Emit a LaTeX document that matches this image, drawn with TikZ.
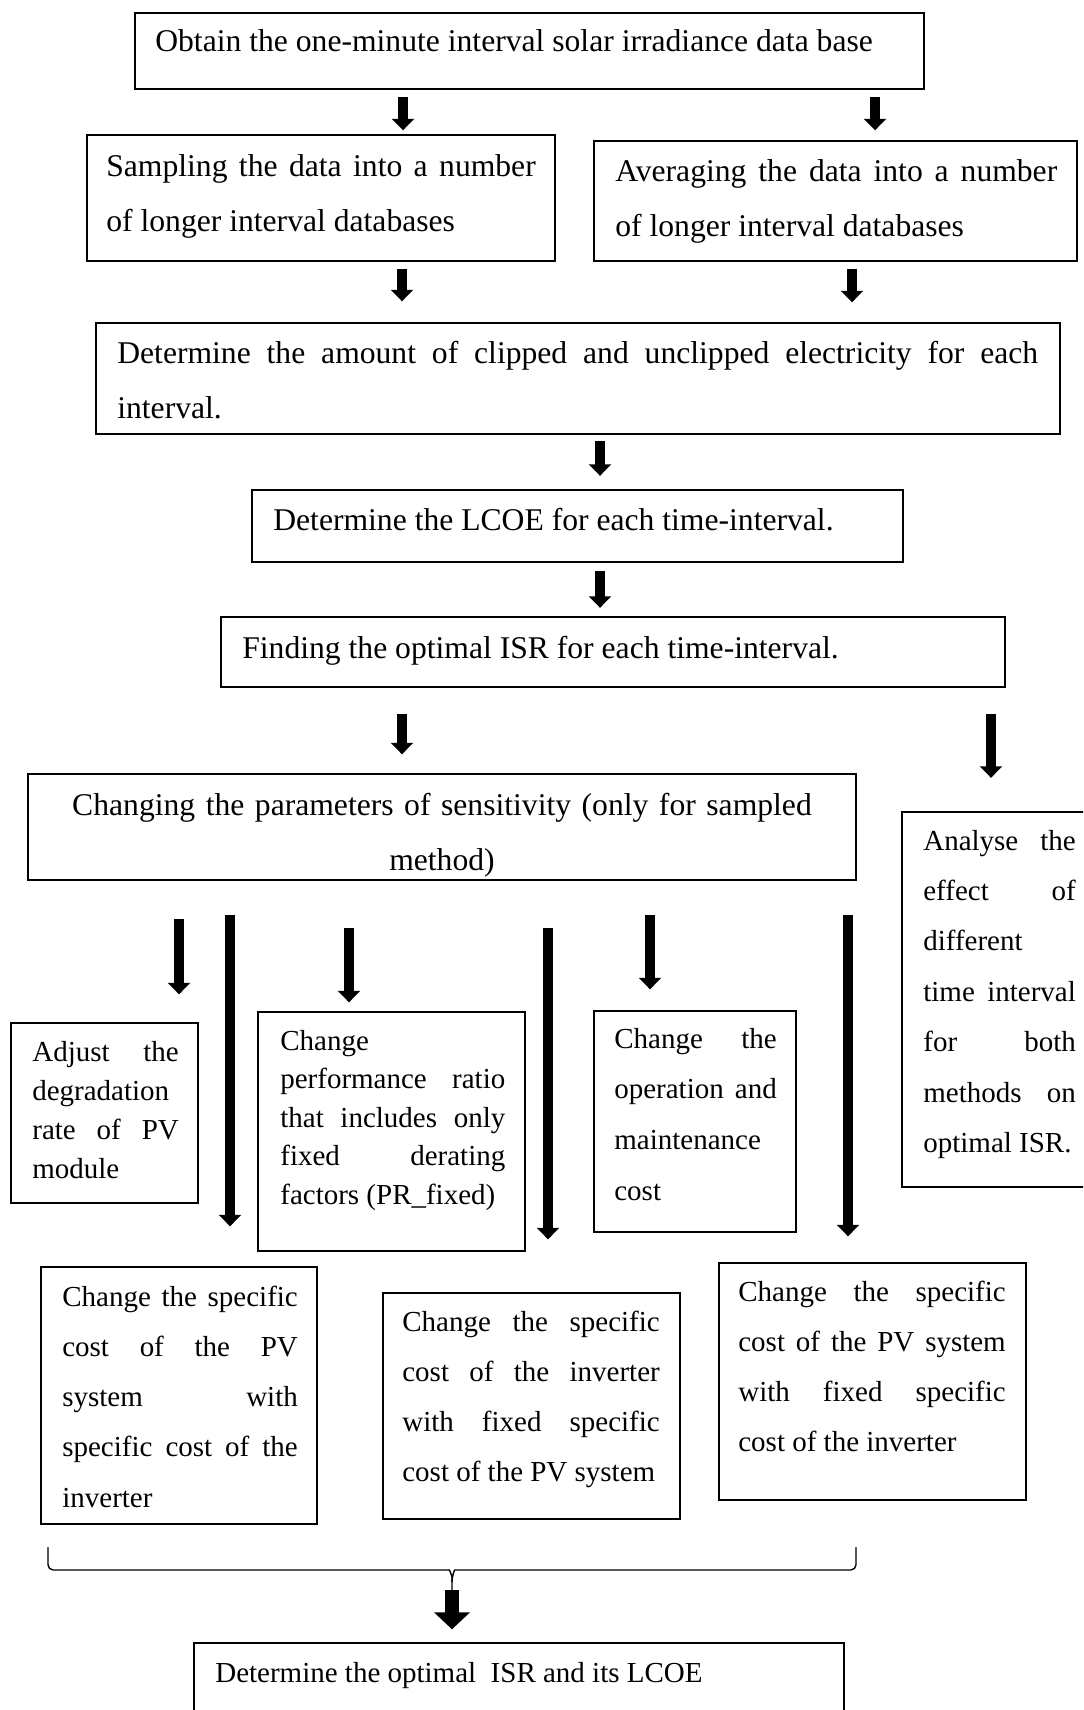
\documentclass[tikz,border=0pt]{standalone}
\usepackage{fontspec}
\setmainfont{Liberation Serif}
\usetikzlibrary{arrows.meta,fit}
\tolerance=10000
\hbadness=10000
\hyphenpenalty=10000
\begin{document}
\begin{tikzpicture}[x=0.02cm, y=-0.02cm,
                  box/.style={draw, line width=0.8pt, inner sep=0pt},
                  txt/.style={anchor=base west, inner sep=0pt},
                  jus/.style={txt, align=justify, text width=#1},
                  big/.style={font=\fontsize{18}{31.6}\selectfont},
                  small/.style={font=\fontsize{16.5}{#1}\selectfont},
                  arr/.style={line width=0.19cm, -{Triangle[width=0.44cm,length=0.23cm]}},
                  bigarr/.style={line width=0.28cm, -{Triangle[width=0.7cm,length=0.34cm]}},
                  brc/.style={line width=0.8pt, rounded corners=3pt}]
\path[use as bounding box, fill=white] (0,0) rectangle (1083,1710);
\clip (0,0) rectangle (1083,1710);
\foreach \n/\a/\b/\c/\d in {A/135/13/924/89, B1/87/135/555/261, B2/594/141/1077/261,
    C/96/323/1060/434, D/252/490/903/562, E/221/617/1005/687, F/28/774/856/880,
    G/902/812/1100/1187, H1/11/1023/198/1203, H2/258/1012/525/1251,
    H3/594/1011/796/1232, K1/41/1267/317/1524, K2/383/1293/680/1519,
    K3/719/1263/1026/1500, L/194/1643/844/1730}
  \node[box, fit={(\a,\b) (\c,\d)}] (\n) {};
\node[txt, big] (At) at (155,52) {Obtain the one-minute interval solar irradiance data base};
\node[jus=8.59cm, big] (B1t) at (106,176) {Sampling the data into a number\linebreak of longer interval databases};
\node[jus=8.84cm, big] (B2t) at (615,181) {Averaging the data into a number\linebreak of longer interval databases};
\node[jus=18.42cm, big] (Ct) at (117,363) {Determine the amount of clipped and unclipped electricity for each\linebreak interval.};
\node[txt, big] (Dt) at (273,530) {Determine the LCOE for each time-interval.};
\node[txt, big] (Et) at (242,658) {Finding the optimal ISR for each time-interval.};
\node[big, anchor=base, inner sep=0pt, text width=16cm, align=center] (Ft) at (442,815)
  {Changing the parameters of sensitivity (only for sampled\\ method)};
\node[jus=3.05cm, small=28.7] (Gt) at (923,850) {Analyse the\linebreak effect of\linebreak different\\ time interval\linebreak for both\linebreak methods on\linebreak optimal ISR.};
\node[jus=2.93cm, small=22.2] (H1t) at (32,1061) {Adjust the\linebreak degradation\\ rate of PV\linebreak module};
\node[jus=4.5cm, small=22] (H2t) at (280,1050) {Change\\ performance ratio\linebreak that includes only\linebreak fixed derating\linebreak factors (PR\_fixed)};
\node[jus=3.25cm, small=28.9] (H3t) at (614,1048) {Change the\linebreak operation and\linebreak maintenance\\ cost};
\node[jus=4.71cm, small=28.6] (K1t) at (62,1306) {Change the specific\linebreak cost of the PV\linebreak system with\linebreak specific cost of the\linebreak inverter};
\node[jus=5.15cm, small=28.6] (K2t) at (402,1331) {Change the specific\linebreak cost of the inverter\linebreak with fixed specific\linebreak cost of the PV system};
\node[jus=5.35cm, small=28.6] (K3t) at (738,1301) {Change the specific\linebreak cost of the PV system\linebreak with fixed specific\linebreak cost of the inverter};
\node[txt, small=28.6] (Lt) at (215,1682) {Determine the optimal\ \ ISR and its LCOE};
\foreach \s/\t/\x/\a/\b in {A/B1/403/0.14cm/0.08cm, A/B2/875/0.14cm/0.2cm,
    B1/C/402/0.14cm/0.42cm, B2/C/852/0.14cm/0.4cm, C/D/600/0.13cm/0.27cm,
    D/E/600/0.16cm/0.17cm, E/F/402/0.52cm/0.38cm, E/G/991/0.52cm/0.67cm}
  {\coordinate (p) at (\x,0);
   \draw[arr, shorten <=\a, shorten >=\b] (\s.south -| p) -- (\t.north -| p);}
\foreach \t/\x/\a/\b in {H1/179/0.76cm/0.56cm, K1/230/0.68cm/0.8cm,
    H2/349/0.94cm/0.18cm, K2/548/0.94cm/1.06cm,
    H3/650/0.68cm/0.42cm, K3/848/0.68cm/0.52cm}
  {\coordinate (p) at (\x,0);
   \draw[arr, shorten <=\a, shorten >=\b] (F.south -| p) -- (\t.north -| p);}
\coordinate (bl) at (48,1547);
\coordinate (br) at (856,1547);
\coordinate (bt) at (452,1590);
\draw[brc] (bl) -- (48,1570) -- (444,1570) to[out=0,in=90] (452,1582) -- (bt);
\draw[brc] (br) -- (856,1570) -- (460,1570) to[out=180,in=90] (452,1582);
\draw[bigarr, shorten >=0.26cm] (bt) -- (L.north -| bt);
\end{tikzpicture}
\end{document}
